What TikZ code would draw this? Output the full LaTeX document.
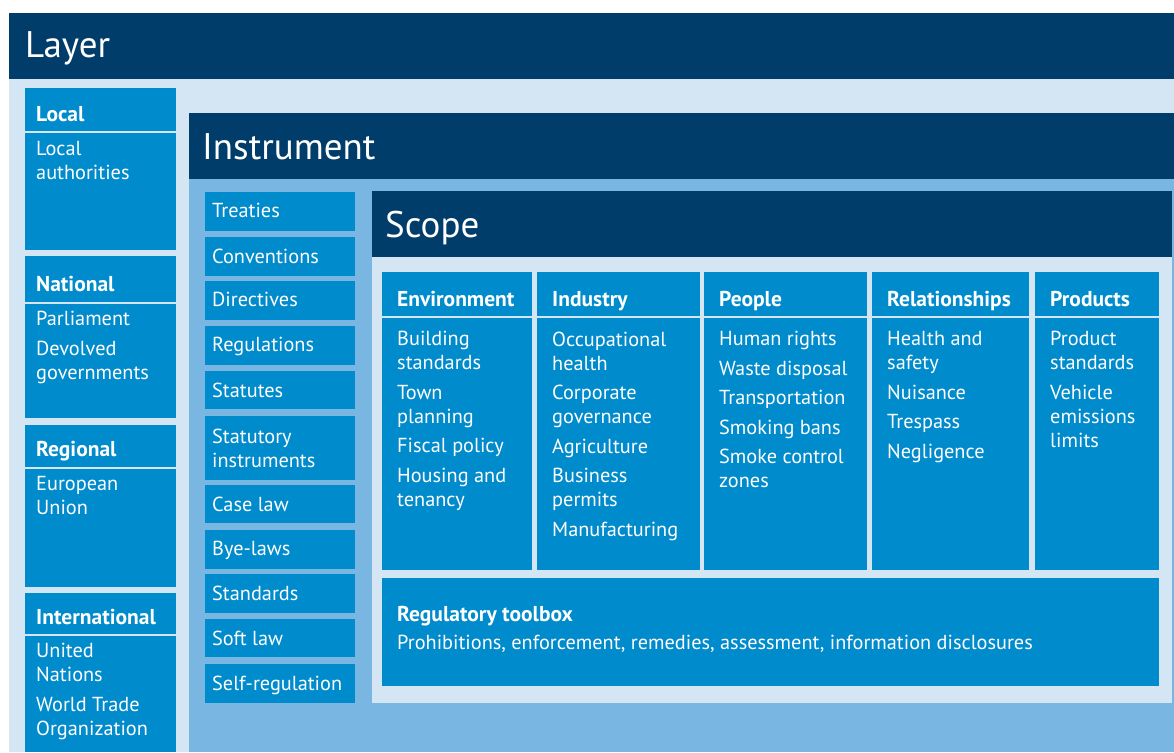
\documentclass[tikz,border=0pt]{standalone}
\usepackage{fontspec}
\setmainfont{PT Sans}
\usetikzlibrary{positioning}
\definecolor{navy}{RGB}{0, 61, 106}
\definecolor{boxblue}{RGB}{0, 139, 204}
\definecolor{paleblue}{RGB}{212, 230, 244}
\definecolor{skyblue}{RGB}{122, 182, 226}

\begin{document}
\begin{tikzpicture}[x=1pt, y=-1pt,
    title/.style={font=\fontsize{37}{40}\selectfont, text=white, anchor=base west, inner sep=0pt},
    head/.style={font=\bfseries\fontsize{21.5}{24}\selectfont, text=white, anchor=base west, inner sep=0pt},
    body/.style={font=\fontsize{20.3}{24}\selectfont, text=white, anchor=north west, yshift=14.6pt, align=left, inner sep=0pt},
    sepline/.style={paleblue, line width=1.5pt}]
    \useasboundingbox (0,0) rectangle (1174,752);
    % layer panel
    \fill[navy] (9,13) rectangle (1174,79);
    \fill[paleblue] (9,79) rectangle (1174,752);
    \node[title] (layer) at (25,58) {Layer};
    \foreach \top/\bot/\sep in {88/250/132, 256/418/303, 425/587/468, 593/752/635} {
        \fill[boxblue] (25,\top) rectangle (176,\bot);
        \draw[sepline] (25,\sep) -- (176,\sep);
    }
    \node[head] (local) at (36,121) {Local};
    \node[body] (localtxt) at (36,156) {Local\\authorities};
    \node[head] (national) at (36,291) {National};
    \node[body] (nationaltxt) at (36,326) {Parliament\\[5.5pt]Devolved\\governments};
    \node[head] (regional) at (36,456) {Regional};
    \node[body] (regionaltxt) at (36,491) {European\\Union};
    \node[head] (international) at (36,624) {International};
    \node[body] (internationaltxt) at (36,658) {United\\Nations\\[5.5pt]World Trade\\Organization};
    % instrument panel
    \fill[navy] (189,113) rectangle (1174,179);
    \fill[skyblue] (189,179) rectangle (1174,752);
    \node[title] (instrument) at (202,159) {Instrument};
    \foreach \top/\bot/\base/\txt [count=\i] in {192/231/218/Treaties, 237/276/263/Conventions,
        281/320/307/Directives, 326/365/352/Regulations, 371/409/397/Statutes,
        416/480/443/{Statutory\\instruments}, 485/523/511/Case law, 530/569/556/Bye-laws,
        574/613/600/Standards, 619/657/645/Soft law, 664/703/690/Self-regulation} {
        \fill[boxblue] (205,\top) rectangle (355,\bot);
        \node[body] (inst\i) at (212,\base) {\txt};
    }
    % scope panel
    \fill[navy] (372,191) rectangle (1172,257);
    \fill[paleblue] (372,257) rectangle (1172,703);
    \node[title] (scope) at (385,237) {Scope};
    \foreach \l/\r in {382/532, 537/700, 704/867, 872/1029, 1035/1159} {
        \fill[boxblue] (\l,272) rectangle (\r,570);
        \draw[sepline] (\l,317) -- (\r,317);
    }
    \node[head] (env) at (397,306) {Environment};
    \node[body] (envtxt) at (397,346) {Building\\standards\\[5.5pt]Town\\planning\\[5.5pt]Fiscal policy\\[5.5pt]Housing and\\tenancy};
    \node[head] (ind) at (552,306) {Industry};
    \node[body] (indtxt) at (552,346) {Occupational\\health\\[5.5pt]Corporate\\governance\\[5.5pt]Agriculture\\[5.5pt]Business\\permits\\[5.5pt]Manufacturing};
    \node[head] (ppl) at (719,306) {People};
    \node[body] (ppltxt) at (719,346) {Human rights\\[5.5pt]Waste disposal\\[5.5pt]Transportation\\[5.5pt]Smoking bans\\[5.5pt]Smoke control\\zones};
    \node[head] (rel) at (887,306) {Relationships};
    \node[body] (reltxt) at (887,346) {Health and\\safety\\[5.5pt]Nuisance\\[5.5pt]Trespass\\[5.5pt]Negligence};
    \node[head] (prod) at (1050,306) {Products};
    \node[body] (prodtxt) at (1050,346) {Product\\standards\\[5.5pt]Vehicle\\emissions\\limits};
    % toolbox
    \fill[boxblue] (382,578) rectangle (1159,686);
    \node[head] (toolbox) at (397,621) {Regulatory toolbox};
    \node[body] (tooltxt) at (397,650) {Prohibitions, enforcement, remedies, assessment, information disclosures};
\end{tikzpicture}
\end{document}
